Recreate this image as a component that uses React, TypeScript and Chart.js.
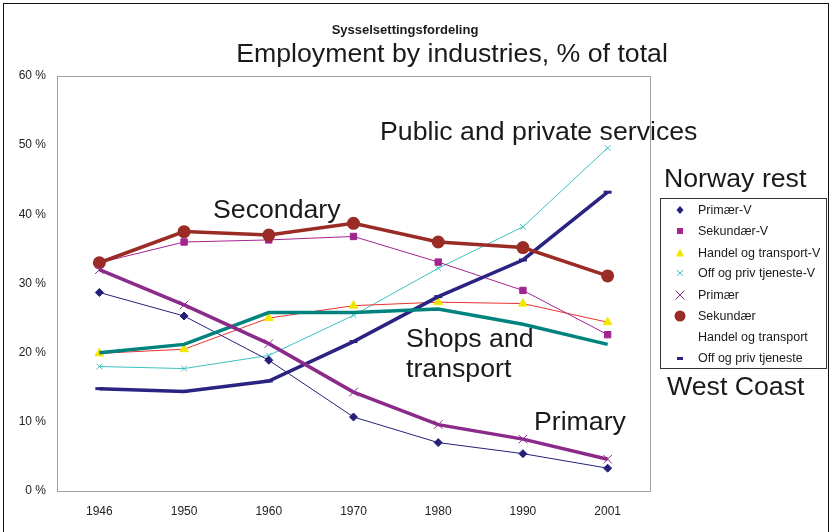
import React, { useEffect, useRef } from "react";
import { Chart, registerables } from "chart.js";

Chart.register(...registerables);

const years = ["1946", "1950", "1960", "1970", "1980", "1990", "2001"];
const yTickValues = [0, 10, 20, 30, 40, 50, 60];

// West Coast (thin lines)
const primaerV = [28.7, 25.3, 18.9, 10.7, 7.0, 5.4, 3.3];
const sekundaerV = [33.0, 36.0, 36.3, 36.8, 33.1, 29.0, 22.6];
const handelV = [19.9, 20.5, 25.0, 26.8, 27.3, 27.1, 24.4];
const offPrivV = [18.0, 17.7, 19.6, 25.4, 32.2, 38.2, 49.6];

// Norway rest (thick lines)
const primaer = [32.0, 26.9, 21.3, 14.3, 9.6, 7.5, 4.6];
const sekundaer = [33.0, 37.5, 37.0, 38.7, 36.0, 35.2, 31.1];
const handel = [20.0, 21.2, 25.8, 25.8, 26.3, 24.1, 21.2];
const offPriv = [14.8, 14.4, 15.9, 21.6, 28.1, 33.4, 43.2];

const FONT = "'Liberation Sans', Arial, Helvetica, sans-serif";

const C = {
  navyThin: "#24207A",
  magenta: "#A3238F",
  red: "#E8322E",
  yellow: "#F2E600",
  cyan: "#3EC0C0",
  purple: "#8C2A8A",
  brown: "#9A2C25",
  teal: "#00837E",
  navy: "#2A2382",
};

const borderPlugin = {
  id: "plotBorder",
  afterDraw(chart: any) {
    const { ctx, chartArea } = chart;
    ctx.save();
    ctx.strokeStyle = "#A0A0A0";
    ctx.lineWidth = 1;
    ctx.strokeRect(
      Math.round(chartArea.left) + 0.5,
      Math.round(chartArea.top) + 0.5,
      Math.round(chartArea.right - chartArea.left),
      Math.round(chartArea.bottom - chartArea.top)
    );
    ctx.restore();
  },
};

function LegendMarker({ kind }: { kind: string }) {
  const s = 14;
  let el: any = null;
  if (kind === "diamond") el = <polygon points="7,3 10.5,7 7,11 3.5,7" fill={C.navyThin} />;
  if (kind === "square") el = <rect x="4" y="4" width="6" height="6" fill={C.magenta} />;
  if (kind === "triangle") el = <polygon points="7,2.5 11,10.5 3,10.5" fill={C.yellow} />;
  if (kind === "xcyan")
    el = (
      <g stroke={C.cyan} strokeWidth="1">
        <line x1="4" y1="4" x2="10" y2="10" />
        <line x1="10" y1="4" x2="4" y2="10" />
      </g>
    );
  if (kind === "xpurple")
    el = (
      <g stroke={C.purple} strokeWidth="1">
        <line x1="2.5" y1="2.5" x2="11.5" y2="11.5" />
        <line x1="11.5" y1="2.5" x2="2.5" y2="11.5" />
      </g>
    );
  if (kind === "circle") el = <circle cx="7" cy="7" r="5.5" fill={C.brown} />;
  if (kind === "dash") el = <rect x="4" y="6" width="6" height="3" fill={C.navy} />;
  return (
    <svg width={s} height={s} style={{ position: "absolute", left: 12, top: -7 }}>
      {el}
    </svg>
  );
}

const legendItems = [
  { label: "Primær-V", kind: "diamond" },
  { label: "Sekundær-V", kind: "square" },
  { label: "Handel og transport-V", kind: "triangle" },
  { label: "Off og priv tjeneste-V", kind: "xcyan" },
  { label: "Primær", kind: "xpurple" },
  { label: "Sekundær", kind: "circle" },
  { label: "Handel og transport", kind: "none" },
  { label: "Off og priv tjeneste", kind: "dash" },
];
const legendRowY = [12, 33, 55, 75, 97, 118, 139, 160];

function Txt({ left, baseline, size, children, bold, center }: any) {
  const style: any = {
    position: "absolute",
    top: baseline - 0.8465 * size,
    fontSize: size,
    lineHeight: `${size}px`,
    fontFamily: FONT,
    fontWeight: bold ? "bold" : "normal",
    whiteSpace: "nowrap",
    color: "#1a1a1a",
  };
  style.left = left;
  if (center) style.transform = "translateX(-50%)";
  return <div style={style}>{children}</div>;
}

export default function App() {
  const ref = useRef<HTMLCanvasElement>(null);

  useEffect(() => {
    document.body.style.margin = "0";
    const thin = (label: string, data: number[], color: string, extra: any) => ({
      label,
      data,
      order: 1,
      borderColor: color,
      backgroundColor: color,
      borderWidth: 1,
      pointBackgroundColor: color,
      pointBorderColor: color,
      pointBorderWidth: 1,
      tension: 0,
      ...extra,
    });
    const chart = new Chart(ref.current as HTMLCanvasElement, {
      type: "line",
      data: {
        labels: years,
        datasets: [
          thin("Primær-V", primaerV, C.navyThin, { pointStyle: "rectRot", pointRadius: 4 }),
          thin("Sekundær-V", sekundaerV, C.magenta, { pointStyle: "rect", pointRadius: 4.5 }),
          thin("Handel og transport-V", handelV, C.red, {
            pointStyle: "triangle",
            pointRadius: 5,
            pointBackgroundColor: C.yellow,
            pointBorderColor: C.yellow,
          }),
          thin("Off og priv tjeneste-V", offPrivV, C.cyan, { pointStyle: "crossRot", pointRadius: 4 }),
          {
            label: "Primær",
            data: primaer,
            order: 0,
            borderColor: C.purple,
            backgroundColor: C.purple,
            borderWidth: 3.5,
            pointStyle: "crossRot",
            pointRadius: 6,
            pointBorderWidth: 1,
            pointBorderColor: C.purple,
            tension: 0,
          },
          {
            label: "Sekundær",
            data: sekundaer,
            order: 0,
            borderColor: C.brown,
            backgroundColor: C.brown,
            borderWidth: 3.5,
            pointStyle: "circle",
            pointRadius: 6.5,
            pointBorderWidth: 0,
            pointBackgroundColor: C.brown,
            tension: 0,
          },
          {
            label: "Handel og transport",
            data: handel,
            order: 0,
            borderColor: C.teal,
            backgroundColor: C.teal,
            borderWidth: 3.5,
            pointRadius: 0,
            tension: 0,
          },
          {
            label: "Off og priv tjeneste",
            data: offPriv,
            order: 0,
            borderColor: C.navy,
            backgroundColor: C.navy,
            borderWidth: 3.5,
            pointStyle: "line",
            pointRadius: 4,
            pointBorderWidth: 3,
            pointBorderColor: C.navy,
            tension: 0,
          },
        ],
      },
      options: {
        responsive: false,
        animation: false,
        layout: { padding: { top: 76, right: 183, bottom: 0, left: 0 } },
        plugins: { legend: { display: false }, title: { display: false }, tooltip: { enabled: false } },
        scales: {
          x: {
            offset: true,
            grid: { display: false, drawTicks: false },
            border: { display: false },
            ticks: { color: "#222", font: { family: FONT, size: 12 }, padding: 13, maxRotation: 0 },
            afterFit: (s: any) => {
              s.height = 41;
            },
          },
          y: {
            min: 0,
            max: 60,
            grid: { display: false, drawTicks: false },
            border: { display: false },
            afterBuildTicks: (s: any) => {
              s.ticks = yTickValues.map((v) => ({ value: v }));
            },
            ticks: {
              color: "#222",
              font: { family: FONT, size: 12 },
              padding: 11,
              callback: (v: any) => `${v} %`,
            },
            afterFit: (s: any) => {
              s.width = 57;
            },
          },
        },
      },
      plugins: [borderPlugin],
    });
    return () => chart.destroy();
  }, []);

  return (
    <div style={{ position: "fixed", left: 0, top: 0, width: 833, height: 532, overflow: "hidden", background: "#fff" }}>
      <canvas ref={ref} width={833} height={532} style={{ position: "absolute", left: 0, top: 0 }} />
      <div
        style={{
          position: "absolute",
          left: 3,
          top: 3,
          width: 826,
          height: 540,
          border: "1.5px solid #111",
          boxSizing: "border-box",
          pointerEvents: "none",
        }}
      />
      <Txt left={405} baseline={34} size={13} bold center>
        Sysselsettingsfordeling
      </Txt>
      <Txt left={452} baseline={63} size={26.7} center>
        Employment by industries, % of total
      </Txt>
      <Txt left={380} baseline={141} size={26.7}>
        Public and private services
      </Txt>
      <Txt left={213} baseline={219} size={26.7}>
        Secondary
      </Txt>
      <Txt left={406} baseline={348} size={26.7}>
        Shops and
      </Txt>
      <Txt left={406} baseline={378} size={26.7}>
        transport
      </Txt>
      <Txt left={534} baseline={431} size={26.7}>
        Primary
      </Txt>
      <Txt left={664} baseline={188} size={26.7}>
        Norway rest
      </Txt>
      <Txt left={667} baseline={396} size={26.7}>
        West Coast
      </Txt>
      <div
        style={{
          position: "absolute",
          left: 660,
          top: 198,
          width: 167,
          height: 171,
          border: "1px solid #333",
          boxSizing: "border-box",
          background: "#fff",
        }}
      >
        {legendItems.map((it, i) => (
          <div key={it.label} style={{ position: "absolute", left: 0, top: legendRowY[i] - 1, width: "100%" }}>
            {it.kind !== "none" && <LegendMarker kind={it.kind} />}
            <div
              style={{
                position: "absolute",
                left: 37,
                top: -7,
                fontFamily: FONT,
                fontSize: 12.5,
                lineHeight: "14px",
                whiteSpace: "nowrap",
                color: "#1a1a1a",
              }}
            >
              {it.label}
            </div>
          </div>
        ))}
      </div>
    </div>
  );
}
